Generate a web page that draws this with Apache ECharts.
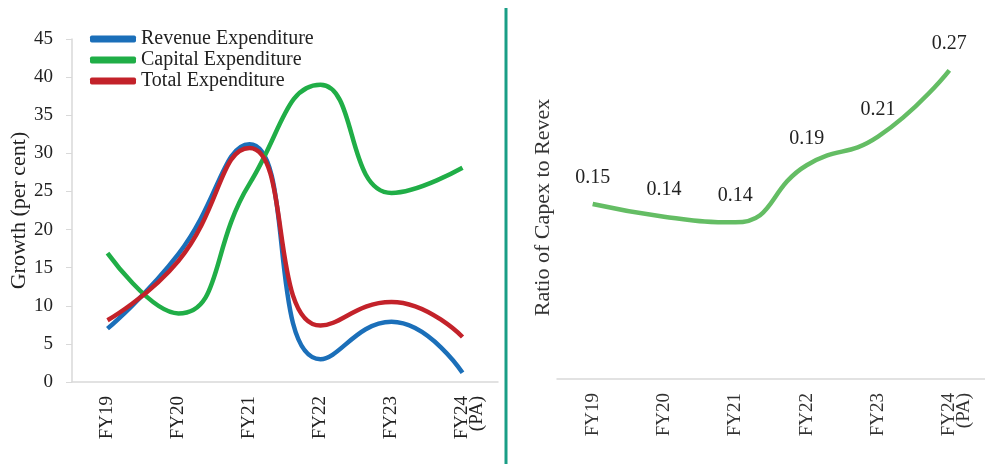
<!DOCTYPE html>
<html>
<head>
<meta charset="utf-8">
<script src="https://cdn.jsdelivr.net/npm/echarts@6/dist/echarts.min.js"></script>
<style>html,body{margin:0;padding:0;background:#fff;}#c{width:985px;height:464px;}</style>
</head>
<body>
<div id="c"></div>
<script>
var categories = ['FY19', 'FY20', 'FY21', 'FY22', 'FY23', 'FY24\n(PA)'];
var revenueGrowth = [7.0, 16.8, 31.2, 3.0, 7.9, 1.2];
var capitalGrowth = [16.9, 9.0, 26.0, 39.0, 24.8, 28.1];
var totalGrowth = [8.1, 15.9, 30.7, 7.4, 10.5, 5.9];
var capexRevexRatio = [0.153, 0.142, 0.137, 0.187, 0.212, 0.270];
var growthTicks = [0, 5, 10, 15, 20, 25, 30, 35, 40, 45];

var FONT = '"Liberation Serif", "Times New Roman", serif';
function catLabel(v) {
  return v.indexOf('\n') >= 0 ? ' \n' + v : v;
}
var chart = echarts.init(document.getElementById('c'));
chart.setOption({
  backgroundColor: '#ffffff',
  animation: false,
  textStyle: { fontFamily: FONT },
  legend: {
    orient: 'vertical', left: 85, top: 24, itemGap: 1,
    itemWidth: 46, itemHeight: 7, icon: 'roundRect',
    textStyle: { fontFamily: FONT, fontSize: 20, lineHeight: 20, color: '#222' },
    data: ['Revenue Expenditure', 'Capital Expenditure', 'Total Expenditure']
  },
  grid: [
    { left: 72, top: 39, width: 426, height: 343 },
    { left: 557, top: 36, width: 438, height: 343 }
  ],
  xAxis: [
    {
      gridIndex: 0, type: 'category', data: categories, boundaryGap: true,
      axisLine: { lineStyle: { color: '#d9d9d9', width: 1.5 } },
      axisTick: { show: false },
      axisLabel: { rotate: 90, margin: 14, fontSize: 19, color: '#222', fontFamily: FONT, lineHeight: 15, formatter: catLabel }
    },
    {
      gridIndex: 1, type: 'category', data: categories, boundaryGap: true,
      axisLine: { lineStyle: { color: '#d9d9d9', width: 1.5 } },
      axisTick: { show: false },
      axisLabel: { rotate: 90, margin: 14, fontSize: 19, color: '#333', fontFamily: FONT, lineHeight: 15, formatter: catLabel }
    }
  ],
  yAxis: [
    {
      gridIndex: 0, type: 'value', min: growthTicks[0], max: growthTicks[growthTicks.length - 1], interval: 5,
      name: 'Growth (per cent)', nameLocation: 'middle', nameGap: 37,
      nameTextStyle: { fontFamily: FONT, fontSize: 22, color: '#222' },
      axisLine: { show: true, lineStyle: { color: '#d9d9d9', width: 1.5 } },
      axisTick: { show: true, length: 6, lineStyle: { color: '#d9d9d9' } },
      axisLabel: { fontSize: 19, color: '#222', fontFamily: FONT, margin: 19 },
      splitLine: { show: false }
    },
    {
      gridIndex: 1, type: 'value', min: 0, max: 0.3,
      name: 'Ratio of Capex to Revex', nameLocation: 'middle', nameGap: 3,
      nameTextStyle: { fontFamily: FONT, fontSize: 22, color: '#333' },
      axisLine: { show: false }, axisTick: { show: false },
      axisLabel: { show: false }, splitLine: { show: false }
    }
  ],
  series: [
    {
      name: 'Revenue Expenditure', type: 'line', xAxisIndex: 0, yAxisIndex: 0,
      data: revenueGrowth, smooth: 0.5, showSymbol: false,
      lineStyle: { color: '#1b6fb9', width: 4.5 }, itemStyle: { color: '#1b6fb9' }
    },
    {
      name: 'Capital Expenditure', type: 'line', xAxisIndex: 0, yAxisIndex: 0,
      data: capitalGrowth, smooth: 0.5, showSymbol: false,
      lineStyle: { color: '#20ae47', width: 4.5 }, itemStyle: { color: '#20ae47' }
    },
    {
      name: 'Total Expenditure', type: 'line', xAxisIndex: 0, yAxisIndex: 0,
      data: totalGrowth, smooth: 0.5, showSymbol: false,
      lineStyle: { color: '#c3222a', width: 4.5 }, itemStyle: { color: '#c3222a' }
    },
    {
      name: 'Ratio of Capex to Revex', type: 'line', xAxisIndex: 1, yAxisIndex: 1,
      data: capexRevexRatio, smooth: 0.5, showSymbol: true, symbol: 'circle', symbolSize: 1,
      lineStyle: { color: '#64bd64', width: 4.5 }, itemStyle: { color: 'rgba(0,0,0,0)' },
      label: {
        show: true, position: 'top', distance: 16, fontSize: 20, color: '#222', fontFamily: FONT,
        formatter: function (p) { return p.value.toFixed(2); }
      }
    }
  ],
  graphic: [
    { type: 'line', shape: { x1: 506, y1: 8, x2: 506, y2: 464 }, style: { stroke: '#1a9e86', lineWidth: 3 } }
  ]
});
</script>
</body>
</html>
